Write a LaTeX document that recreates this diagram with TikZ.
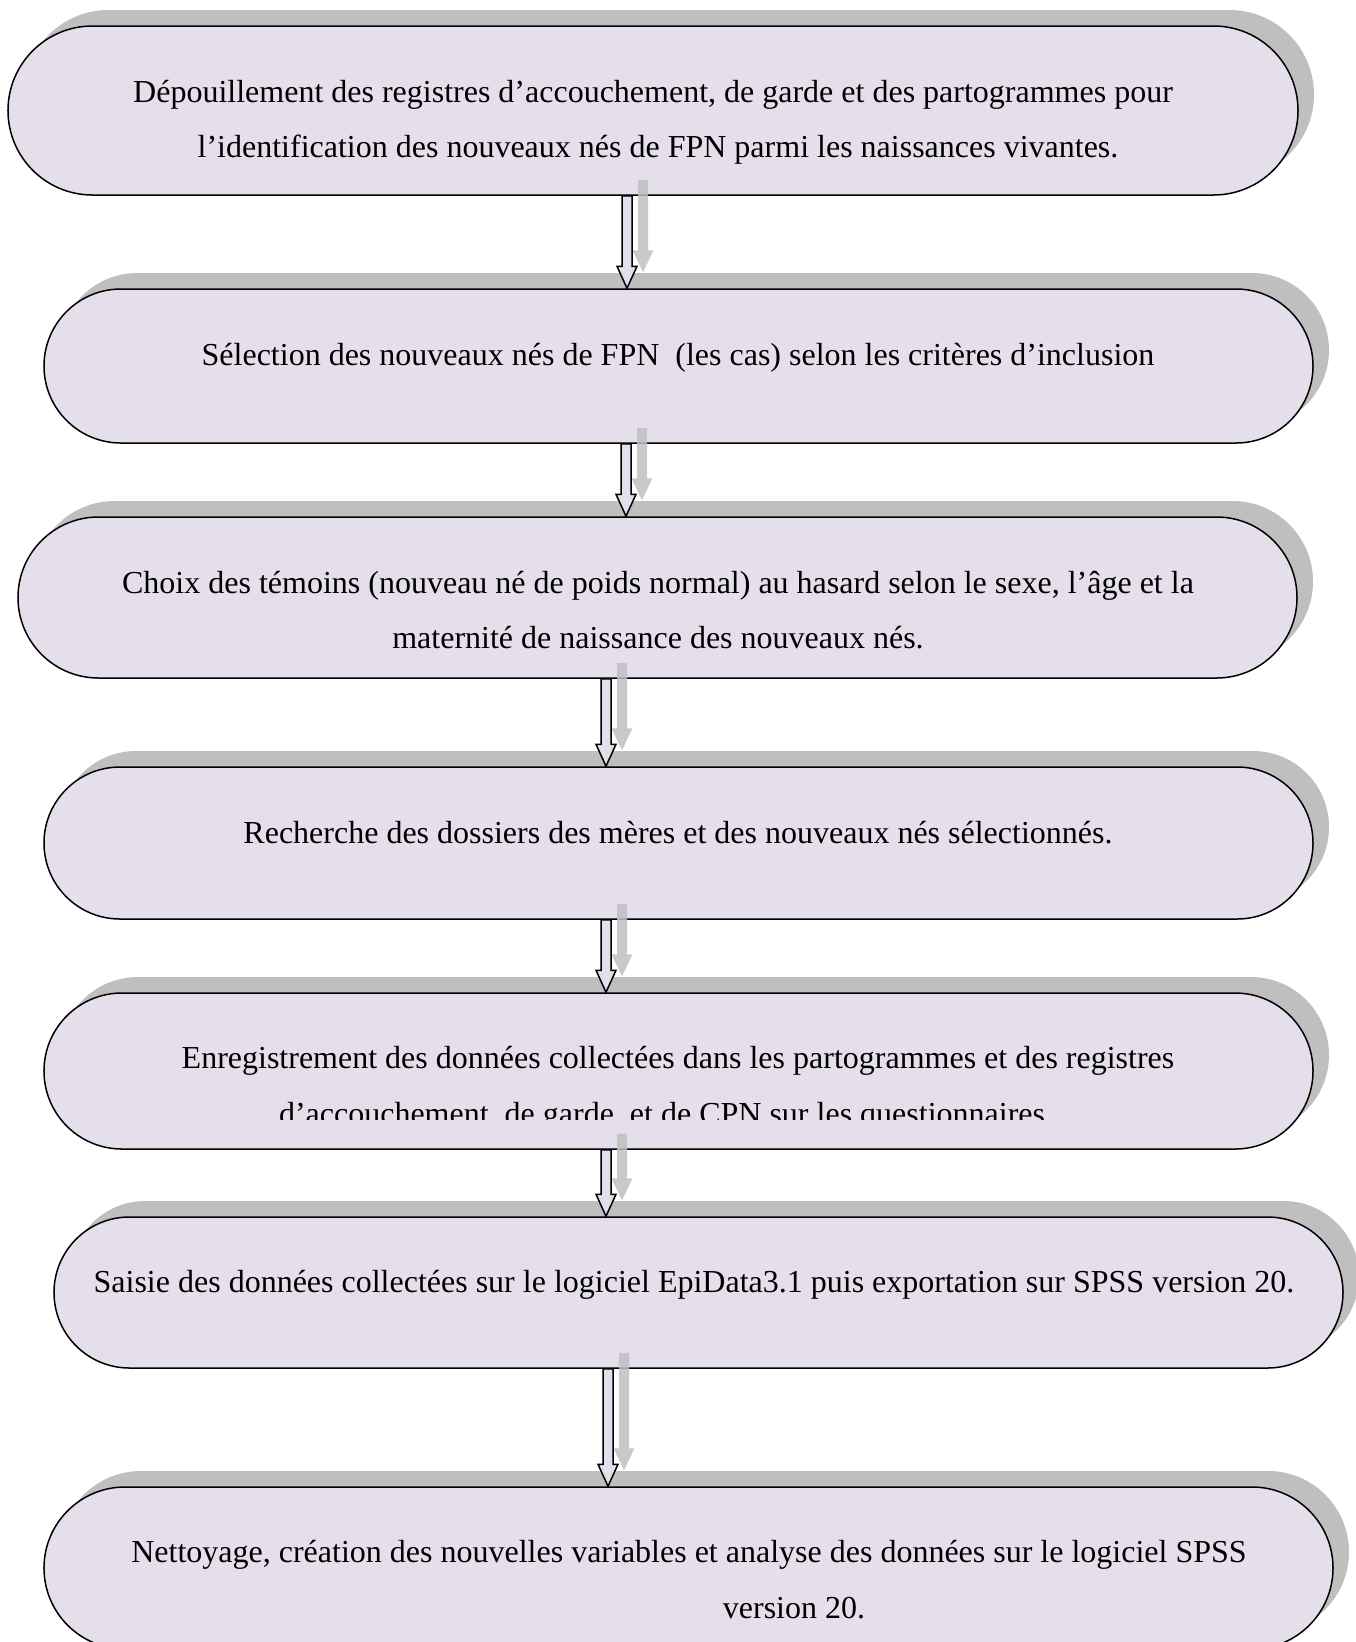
\documentclass[tikz,border=0pt]{standalone}
\usepackage{fontspec}
\setmainfont{Liberation Serif}
\usepackage{tikz}
\usetikzlibrary{calc,shapes.misc,shadows}
\definecolor{boxlav}{HTML}{E5DFEC}
\definecolor{shadegray}{HTML}{BFBFBF}

\begin{document}
\begin{tikzpicture}[x=0.4pt,y=-0.4pt,
  stepbox/.style={rounded rectangle,draw=black,line width=0.6pt,fill=boxlav,inner sep=0pt,
    drop shadow={shadow xshift=6.4pt,shadow yshift=6.4pt,fill=shadegray,opacity=1}},
  steptext/.style={anchor=base,inner sep=0pt,font=\fontsize{12.8}{15}\selectfont},
  arrowbody/.style={draw=black,line width=0.6pt,fill=boxlav},
  arrowshade/.style={fill=shadegray,opacity=0.85}]
\useasboundingbox (0,0) rectangle (1355,1642);
% the seven steps
\node[stepbox,minimum width=516pt,minimum height=67.6pt] (s1) at (653,110.5) {};
\node[stepbox,minimum width=507.6pt,minimum height=61.6pt] (s2) at (678.5,366) {};
\node[stepbox,minimum width=511.6pt,minimum height=64.4pt] (s3) at (657.5,597.5) {};
\node[stepbox,minimum width=507.6pt,minimum height=60.8pt] (s4) at (678.5,843) {};
\node[stepbox,minimum width=507.6pt,minimum height=62.4pt] (s5) at (678.5,1071) {};
\node[stepbox,minimum width=515.6pt,minimum height=60.4pt] (s6) at (698.5,1292.5) {};
\node[stepbox,minimum width=515.6pt,minimum height=64.8pt] (s7) at (688.5,1568) {};
% texts, one line each
\node[steptext] (t1a) at (653,102) {Dépouillement des registres d’accouchement, de garde et des partogrammes pour};
\node[steptext] (t1b) at (658,157) {l’identification des nouveaux nés de FPN parmi les naissances vivantes.};
\node[steptext] (t2) at (678,365) {Sélection des nouveaux nés de FPN\ \ (les cas) selon les critères d’inclusion};
\node[steptext] (t3a) at (658,593) {Choix des témoins (nouveau né de poids normal) au hasard selon le sexe, l’âge et la};
\node[steptext] (t3b) at (658,648) {maternité de naissance des nouveaux nés.};
\node[steptext] (t4) at (678,843) {Recherche des dossiers des mères et des nouveaux nés sélectionnés.};
\node[steptext] (t5a) at (678,1068) {Enregistrement des données collectées dans les partogrammes et des registres};
\begin{scope}
\clip (0,0) rectangle (1355,1119);
\node[steptext] (t5b) at (666,1124) {d’accouchement, de garde, et de CPN sur les questionnaires.};
\end{scope}
\node[steptext] (t6) at (694,1292) {Saisie des données collectées sur le logiciel EpiData3.1 puis exportation sur SPSS version 20.};
\node[steptext] (t7a) at (689,1562) {Nettoyage, création des nouvelles variables et analyse des données sur le logiciel SPSS};
\node[steptext] (t7b) at (794,1618) {version 20.};
% block arrows with their grey shade
\foreach \a/\b/\x in {s1/s2/627,s2/s3/626,s3/s4/606,s4/s5/606,s5/s6/606,s6/s7/608}{
  \coordinate (ax) at (\x,0);
  \coordinate (atop) at (\a.south -| ax);
  \coordinate (abot) at (\b.north -| ax);
  \fill[arrowshade] ($(atop)+(11,-16)$) -- ($(abot)+(11,-38)$) -- ($(abot)+(5.5,-38)$)
    -- ($(abot)+(16,-16)$) -- ($(abot)+(26.5,-38)$) -- ($(abot)+(21,-38)$)
    -- ($(atop)+(21,-16)$) -- cycle;
  \draw[arrowbody] ($(atop)+(-5,0)$) -- ($(abot)+(-5,-22)$) -- ($(abot)+(-10,-22)$)
    -- (abot) -- ($(abot)+(10,-22)$) -- ($(abot)+(5,-22)$) -- ($(atop)+(5,0)$) -- cycle;
}
\end{tikzpicture}
\end{document}
